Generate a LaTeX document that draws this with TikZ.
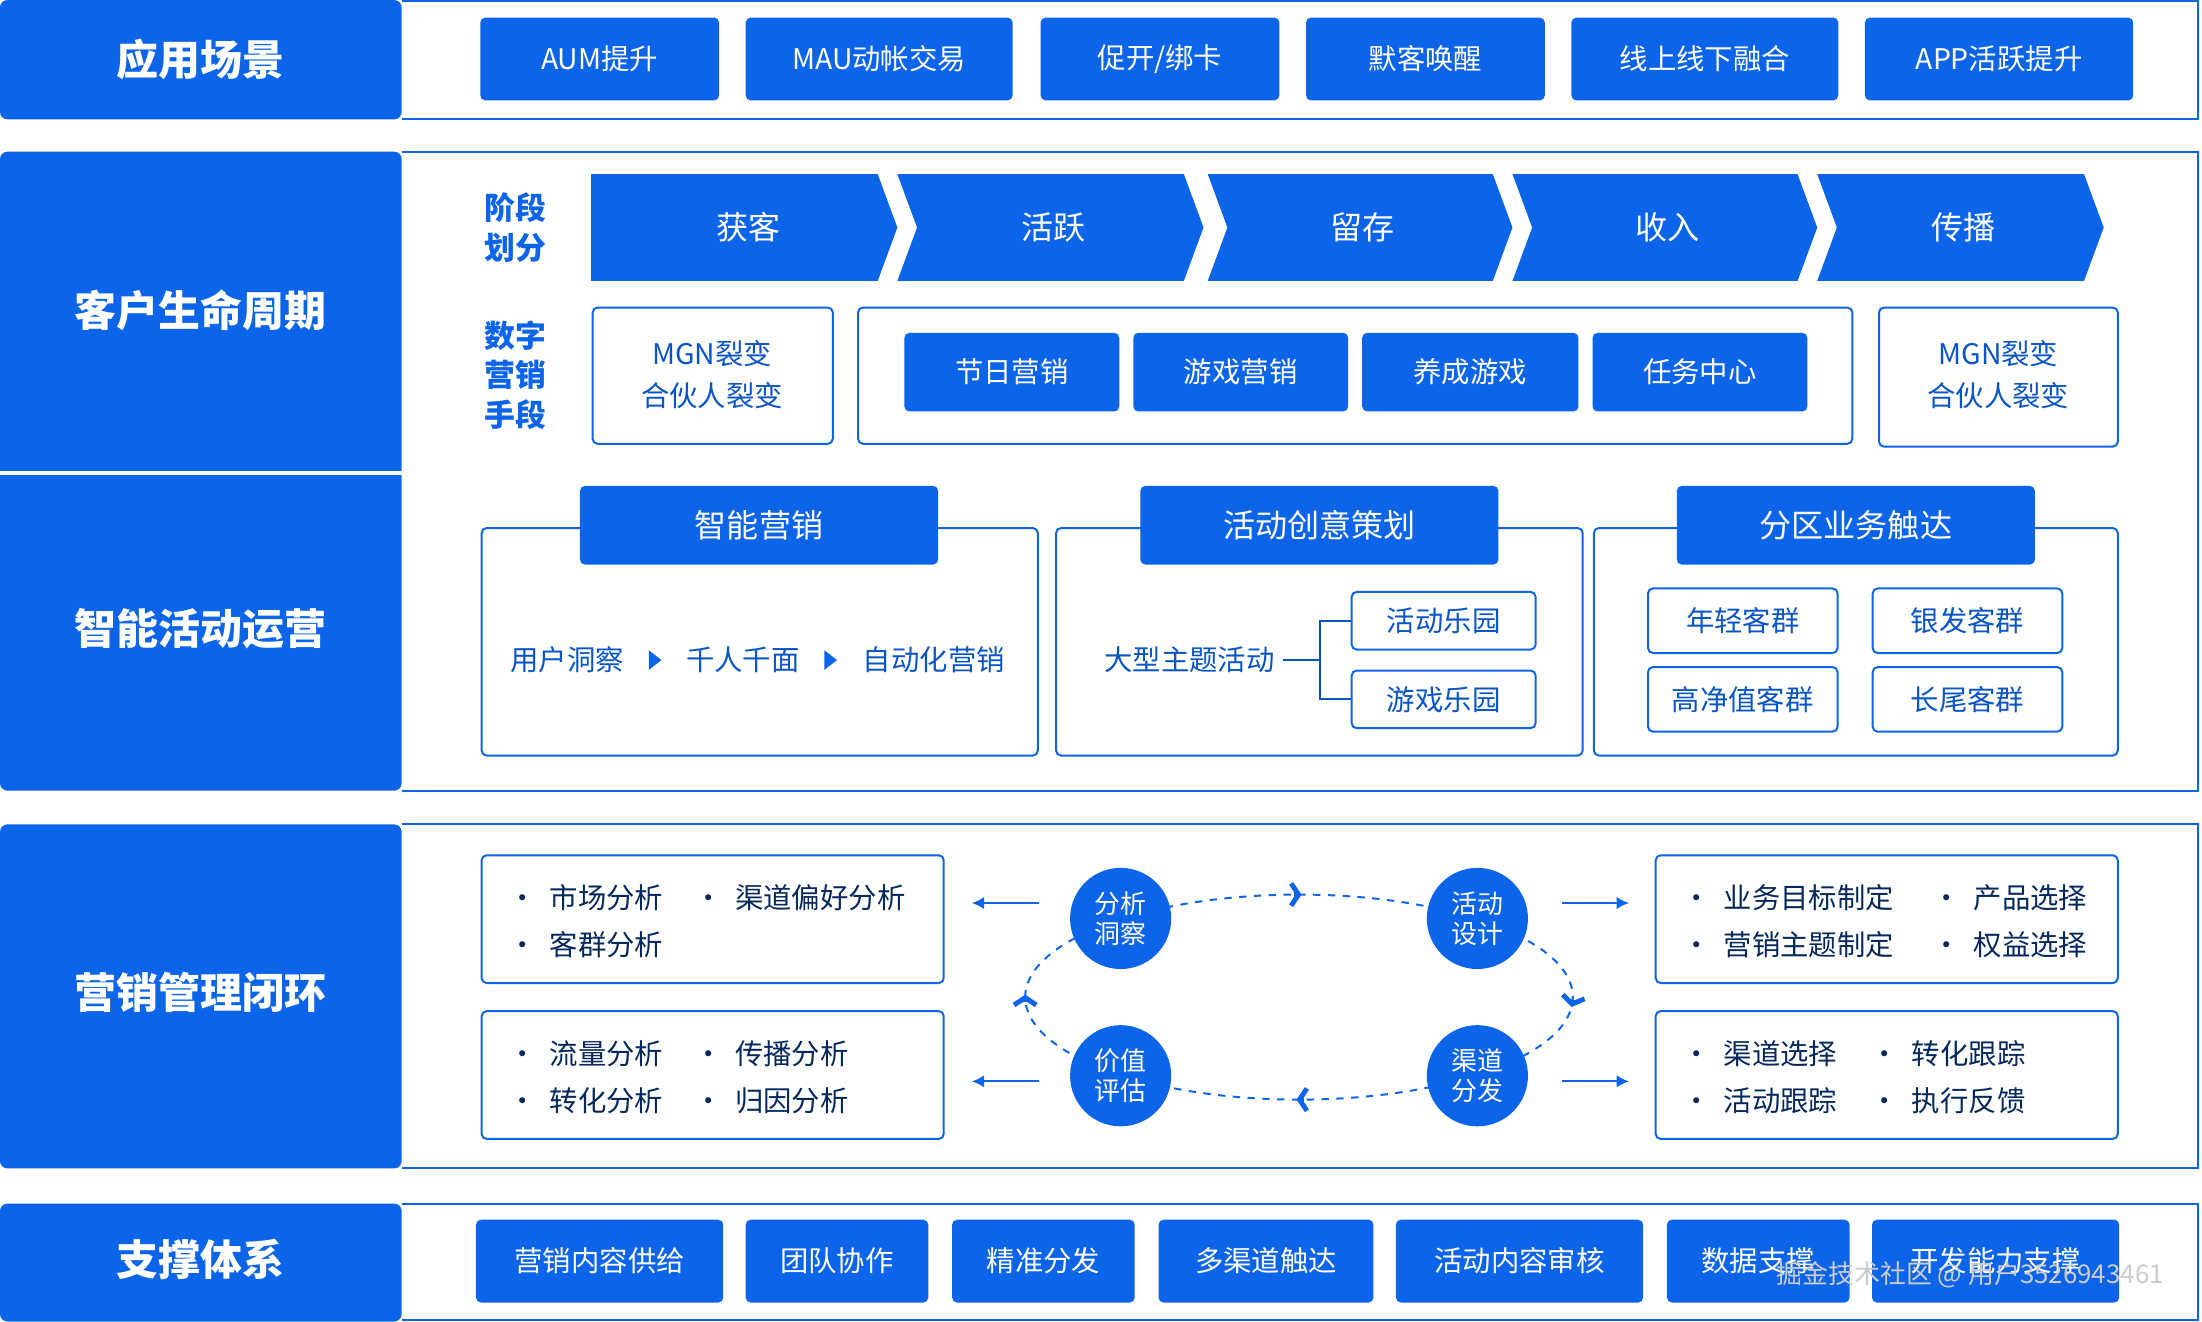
\documentclass[tikz,border=0pt]{standalone}
\usepackage{fontspec}
\setmainfont{Noto Sans CJK SC}
\usetikzlibrary{arrows.meta, positioning, calc, decorations.markings}
\definecolor{mainblue}{RGB}{12,100,232}
\begin{document}
\begin{tikzpicture}[
  x=0.02cm, y=-0.02cm,
  frame/.style = {draw=mainblue, line width=0.8pt},
  btn/.style = {fill=mainblue, rounded corners=2pt, text=white, font=\fontsize{11.5}{13}\selectfont},
  obox/.style = {draw=mainblue, line width=0.8pt, rounded corners=2pt},
  otext/.style = {text=mainblue!85!black, font=\fontsize{11.5}{17}\selectfont, align=center},
  dtext/.style = {text=mainblue!40!black, font=\fontsize{11.5}{19}\selectfont, align=left},
  circ/.style = {circle, fill=mainblue, minimum size=41pt, inner sep=0pt, text=white, align=center, font=\fontsize{10.5}{12}\selectfont},
  arrow/.style = {thick, mainblue, -{Latex[length=5pt,width=5pt]}}
]
\useasboundingbox (0,0) rectangle (1568,941);

% left panels
\fill[mainblue, rounded corners=3pt] (0,0) rectangle (286,85);
\fill[mainblue, rounded corners=3pt] (0,108) rectangle (286,563);
\fill[mainblue, rounded corners=3pt] (0,587) rectangle (286,832);
\fill[mainblue, rounded corners=3pt] (0,857) rectangle (286,941);
\draw[white, line width=1.5pt] (0,337) -- (286,337);
\node[text=white, font=\bfseries\fontsize{17}{20}\selectfont] (t1) at (143,42) {应用场景};
\node[text=white, font=\bfseries\fontsize{17}{20}\selectfont] (t2) at (143,221) {客户生命周期};
\node[text=white, font=\bfseries\fontsize{17}{20}\selectfont] (t3) at (143,448) {智能活动运营};
\node[text=white, font=\bfseries\fontsize{17}{20}\selectfont] (t4) at (143,707) {营销管理闭环};
\node[text=white, font=\bfseries\fontsize{17}{20}\selectfont] (t5) at (143,897) {支撑体系};

% right frames
\draw[frame] (286,0.5) -- (1565,0.5) -- (1565,85) -- (286,85);
\draw[frame] (286,108) -- (1565,108) -- (1565,563) -- (286,563);
\draw[frame] (286,587) -- (1565,587) -- (1565,832) -- (286,832);
\draw[frame] (286,857) -- (1565,857) -- (1565,940) -- (286,940);

% scenes
\foreach \a/\b/\txt [count=\i] in {342/512/AUM提升, 531/721/MAU动帐交易, 741/911/{促开/绑卡},
    930/1100/默客唤醒, 1119/1309/线上线下融合, 1328/1519/APP活跃提升}
  \node[btn, minimum width={(\b-\a)*0.02cm}, minimum height=1.18cm] (scene\i) at ({(\a+\b)/2},42) {\txt};

% stages
\node[text=mainblue, font=\bfseries\fontsize{12.5}{16}\selectfont, align=center] (stage) at (367,162) {阶段\\划分};
\foreach \a/\b/\txt [count=\i] in {421/637/获客, 637/855/活跃, 858/1075/留存, 1075/1292/收入, 1292/1496/传播} {
  \ifnum\i=1
    \fill[mainblue] (\a,124) -- (\b-12,124) -- (\b+2,162) -- (\b-12,200) -- (\a,200) -- cycle;
  \else
    \fill[mainblue] (\a+2,124) -- (\b-12,124) -- (\b+2,162) -- (\b-12,200) -- (\a+2,200) -- (\a+16,162) -- cycle;
  \fi
  \node[text=white, font=\fontsize{13}{15}\selectfont] (ph\i) at ({(\a+\b)/2+4},162) {\txt};
}

% digital means
\node[text=mainblue, font=\bfseries\fontsize{12.5}{16}\selectfont, align=center] (means) at (367,267) {数字\\营销\\手段};
\draw[obox] (422,219) rectangle (593,316);
\node[otext] (mgnA) at (507,267) {MGN裂变\\合伙人裂变};
\draw[obox] (611,219) rectangle (1319,316);
\foreach \a/\b/\txt [count=\i] in {644/797/节日营销, 807/960/游戏营销, 970/1124/养成游戏, 1134/1287/任务中心}
  \node[btn, minimum width={(\b-\a)*0.02cm}, minimum height=1.12cm] (mk\i) at ({(\a+\b)/2},265) {\txt};
\draw[obox] (1338,219) rectangle (1508,318);
\node[otext] (mgnB) at (1423,267) {MGN裂变\\合伙人裂变};

% intelligent operation
\foreach \a/\b/\c/\d/\txt [count=\i] in {343/739/413/668/智能营销, 752/1127/812/1067/活动创意策划, 1135/1508/1194/1449/分区业务触达} {
  \draw[obox] (\a,376) rectangle (\b,538);
  \node[btn, font=\fontsize{13}{15}\selectfont, minimum width={(\d-\c)*0.02cm}, minimum height=1.12cm] (tab\i) at ({(\c+\d)/2},374) {\txt};
}
\node[otext] (ins) at (404,470) {用户洞察};
\node[otext] (kfc) at (529,470) {千人千面};
\node[otext] (auto) at (665,470) {自动化营销};
\fill[mainblue] (462,463) -- (471,470) -- (462,477) -- cycle;
\fill[mainblue] (587,463) -- (596,470) -- (587,477) -- cycle;
\node[otext] (big) at (847,470) {大型主题活动};
\node[obox, otext, minimum width=2.62cm, minimum height=0.82cm] (park1) at (1028,442) {活动乐园};
\node[obox, otext, minimum width=2.62cm, minimum height=0.82cm] (park2) at (1028,498) {游戏乐园};
\draw[mainblue!85!black, thick] (big.east) -- (940,470);
\draw[mainblue!85!black, thick] (park1.west) -| (940,498) -- (park2.west);
\foreach \x/\y/\txt [count=\i] in {1241/442/年轻客群, 1401/442/银发客群, 1241/498/高净值客群, 1401/498/长尾客群}
  \node[obox, otext, minimum width=2.7cm, minimum height=0.92cm] (grp\i) at (\x,\y) {\txt};

% closed loop
\draw[obox] (343,609) rectangle (672,700);
\draw[obox] (343,720) rectangle (672,811);
\draw[obox] (1179,609) rectangle (1508,700);
\draw[obox] (1179,720) rectangle (1508,811);
\node[dtext, anchor=west] (la) at (356,656) {·\ \ 市场分析\\·\ \ 客群分析};
\node[dtext, anchor=west] (lb) at (488,639) {·\ \ 渠道偏好分析};
\node[dtext, anchor=west] (lc) at (356,767) {·\ \ 流量分析\\·\ \ 转化分析};
\node[dtext, anchor=west] (ld) at (488,767) {·\ \ 传播分析\\·\ \ 归因分析};
\node[dtext, anchor=west] (ra) at (1192,656) {·\ \ 业务目标制定\\·\ \ 营销主题制定};
\node[dtext, anchor=west] (rb) at (1370,656) {·\ \ 产品选择\\·\ \ 权益选择};
\node[dtext, anchor=west] (rc) at (1192,767) {·\ \ 渠道选择\\·\ \ 活动跟踪};
\node[dtext, anchor=west] (rd) at (1326,767) {·\ \ 转化跟踪\\·\ \ 执行反馈};

\draw[mainblue, thick, dashed, postaction={decorate}, decoration={markings,
  mark=at position 0.006 with {\draw[solid, line width=2pt, mainblue, -{Straight Barb[length=3pt,width=9pt]}] (-2pt,0) -- (1pt,0);},
  mark=at position 0.25 with {\draw[solid, line width=2pt, mainblue, -{Straight Barb[length=3pt,width=9pt]}] (-2pt,0) -- (1pt,0);},
  mark=at position 0.5 with {\draw[solid, line width=2pt, mainblue, -{Straight Barb[length=3pt,width=9pt]}] (-2pt,0) -- (1pt,0);},
  mark=at position 0.75 with {\draw[solid, line width=2pt, mainblue, -{Straight Barb[length=3pt,width=9pt]}] (-2pt,0) -- (1pt,0);}}]
  (925,710) ellipse [x radius=195, y radius=73];
\node[circ] (analyse) at (798,654) {分析\\洞察};
\node[circ] (design) at (1052,654) {活动\\设计};
\node[circ] (value) at (798,766) {价值\\评估};
\node[circ] (dist) at (1052,766) {渠道\\分发};
\coordinate (la_out) at (740,643);
\coordinate (la_in) at (692,643);
\coordinate (lc_out) at (740,770);
\coordinate (lc_in) at (692,770);
\coordinate (ra_out) at (1112,643);
\coordinate (ra_in) at (1160,643);
\coordinate (rc_out) at (1112,770);
\coordinate (rc_in) at (1160,770);
\draw[arrow] (la_out) -- (la_in);
\draw[arrow] (lc_out) -- (lc_in);
\draw[arrow] (ra_out) -- (ra_in);
\draw[arrow] (rc_out) -- (rc_in);

% support
\foreach \a/\b/\txt [count=\i] in {339/515/营销内容供给, 531/661/团队协作, 678/808/精准分发, 825/978/多渠道触达,
    994/1170/活动内容审核, 1187/1317/数据支撑, 1333/1509/开发能力支撑}
  \node[btn, minimum width={(\b-\a)*0.02cm}, minimum height=1.18cm] (sup\i) at ({(\a+\b)/2},898) {\txt};
\node[text=black!20, font=\fontsize{10.5}{12}\selectfont, anchor=east] (mark) at (1547,908) {掘金技术社区 @ 用户3526943461};
\end{tikzpicture}
\end{document}
